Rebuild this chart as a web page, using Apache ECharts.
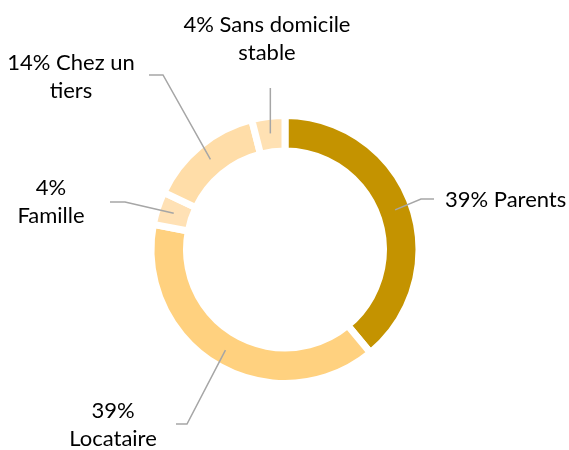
<!DOCTYPE html>
<html>
<head>
<meta charset="utf-8">
<script src="https://cdn.jsdelivr.net/npm/echarts@6/dist/echarts.min.js"></script>
<style>
    html, body {margin: 0; padding: 0; background: #fff;}
</style>
</head>
<body>
<div id="main" style="width: 569px;height:450px;"></div>
<script type="text/javascript">

    // données
    var categories = ['Parents', 'Locataire', 'Famille', 'Chez un tiers', 'Sans domicile stable'];
    var values = [39, 39, 4, 14, 4];
    // texte des étiquettes (retours à la ligne comme dans l'original)
    var labelNames = ['Parents', '\nLocataire', '\nFamille', 'Chez un\ntiers', 'Sans domicile\nstable'];

    var colors = ['#C49300', '#FFD17F', '#FFE1B5', '#FFDDA8', '#FFE1B3'];

    var cx = 285, cy = 249.5;
    var rMid = 117;

    // position des étiquettes et coude du trait de rappel
    var labelPos = [
        {x: 445, y: 200, align: 'left', elbow: [421, 199], end: [434, 199]},
        {x: 113, y: 425, align: 'center', elbow: [187, 424], end: [176, 424]},
        {x: 51, y: 202, align: 'center', elbow: [125, 202], end: [110, 202]},
        {x: 71, y: 77, align: 'center', elbow: [163, 75], end: [149, 75]},
        {x: 267, y: 39, align: 'center', elbow: null, end: [268, 88]}
    ];

    var total = values.reduce(function (a, b) { return a + b; }, 0);
    function midAngle(i) {
        var before = 0;
        for (var k = 0; k < i; k++) before += values[k];
        return (before + values[i] / 2) / total * 2 * Math.PI;
    }

    var data = categories.map(function (name, i) {
        return {name: name, value: values[i], itemStyle: {color: colors[i]}};
    });

    // série invisible au-dessus pour que les traits de rappel passent sur l'anneau
    var labelData = categories.map(function (name, i) {
        return {name: name, value: values[i]};
    });

    var myChart = echarts.init(document.getElementById('main'));
    myChart.setOption({
        animation: false,
        series: [{
            type: 'pie',
            z: 2,
            center: [cx, cy],
            radius: [98.5, 134],
            startAngle: 90,
            clockwise: true,
            silent: true,
            data: data,
            itemStyle: {
                borderColor: '#ffffff',
                borderWidth: 7
            },
            label: {show: false},
            labelLine: {show: false}
        }, {
            type: 'pie',
            z: 3,
            center: [cx, cy],
            radius: [98.5, 134],
            startAngle: 90,
            clockwise: true,
            silent: true,
            avoidLabelOverlap: false,
            data: labelData,
            itemStyle: {
                color: 'rgba(0,0,0,0)'
            },
            label: {
                show: true,
                position: 'outside',
                fontFamily: 'Lato',
                fontSize: 22,
                lineHeight: 28,
                color: '#000000',
                formatter: function (p) {
                    var n = labelNames[p.dataIndex];
                    return p.value + '%' + (n.charAt(0) === '\n' ? '' : ' ') + n;
                }
            },
            labelLine: {
                show: true,
                smooth: false,
                lineStyle: {color: '#A6A6A6', width: 1.5}
            },
            labelLayout: function (params) {
                var i = params.dataIndex;
                var lp = labelPos[i];
                var a = midAngle(i);
                var start = [cx + rMid * Math.sin(a), cy - rMid * Math.cos(a)];
                var end = lp.end.slice();
                var elbow = lp.elbow;
                if (!elbow) {
                    end[0] = start[0];
                    elbow = [start[0], (start[1] + end[1]) / 2];
                }
                return {
                    x: lp.x,
                    y: lp.y,
                    align: lp.align,
                    verticalAlign: 'middle',
                    labelLinePoints: [start, elbow, end]
                };
            }
        }]
    });
</script>
</body>
</html>
